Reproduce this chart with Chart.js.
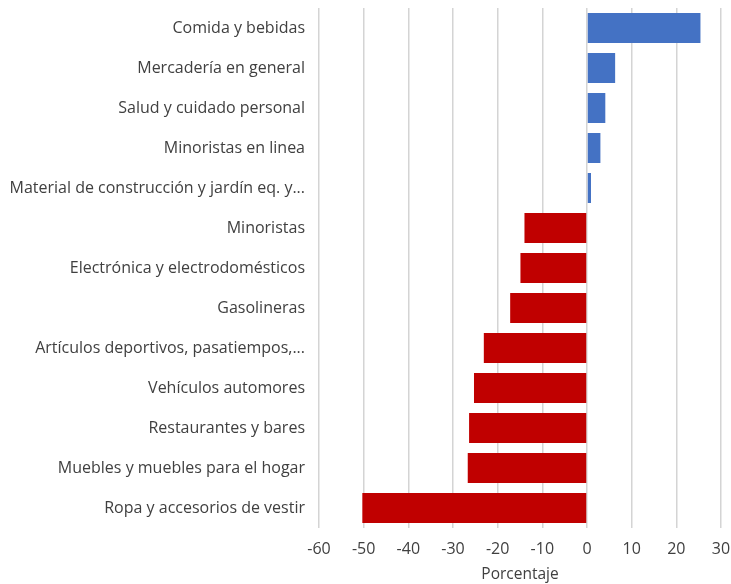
<!DOCTYPE html>
<html><head><meta charset="utf-8">
<script src="https://cdn.jsdelivr.net/npm/chart.js@4"></script>
<style>html,body{margin:0;padding:0;background:#fff}#wrap{width:731px;height:584px}</style>
</head><body><div id="wrap"><canvas id="c"></canvas></div>
<script>
const categories = [
  "Comida y bebidas",
  "Mercadería en general",
  "Salud y cuidado personal",
  "Minoristas en linea",
  "Material de construcción y jardín eq. y...",
  "Minoristas",
  "Electrónica y electrodomésticos",
  "Gasolineras",
  "Artículos deportivos, pasatiempos,...",
  "Vehículos automores",
  "Restaurantes y bares",
  "Muebles y muebles para el hogar",
  "Ropa y accesorios de vestir"
];
const values = [25.4, 6.3, 4.1, 3.0, 0.9, -14.0, -14.9, -17.2, -23.1, -25.3, -26.4, -26.7, -50.3];
const xTicks = [-60, -50, -40, -30, -20, -10, 0, 10, 20, 30];
const blue = "#4472C4", red = "#C00000";
const font = "'Open Sans', sans-serif";

new Chart(document.getElementById('c'), {
  type: 'bar',
  data: {
    labels: categories,
    datasets: [{
      data: values,
      backgroundColor: values.map(v => v >= 0 ? blue : red),
      borderWidth: 0,
      categoryPercentage: 0.75,
      barPercentage: 1
    }]
  },
  options: {
    indexAxis: 'y',
    responsive: true,
    maintainAspectRatio: false,
    animation: false,
    layout: { padding: { top: 8, right: 10, left: 0, bottom: 0 } },
    plugins: { legend: { display: false }, tooltip: { enabled: false } },
    scales: {
      x: {
        min: -60, max: 30,
        afterBuildTicks: s => { s.ticks = xTicks.map(v => ({ value: v })); },
        grid: { color: '#d4d4d4', lineWidth: 1.5, drawTicks: false, tickLength: 0 },
        border: { display: false },
        ticks: { color: '#404040', font: { family: font, size: 16 }, padding: 12, maxRotation: 0 },
        title: { display: true, text: 'Porcentaje', color: '#404040', font: { family: font, size: 15.5 }, padding: { top: 4, bottom: 0 } },
        afterFit: s => { s.height = 56; s.paddingLeft = 0; s.paddingRight = 0; }
      },
      y: {
        grid: { display: false, drawTicks: false },
        border: { display: false },
        ticks: { color: '#404040', font: { family: font, size: 16 }, padding: 14, autoSkip: false },
        afterFit: s => { s.width = 319; s.paddingTop = 0; s.paddingBottom = 0; }
      }
    }
  }
});
</script></body></html>
